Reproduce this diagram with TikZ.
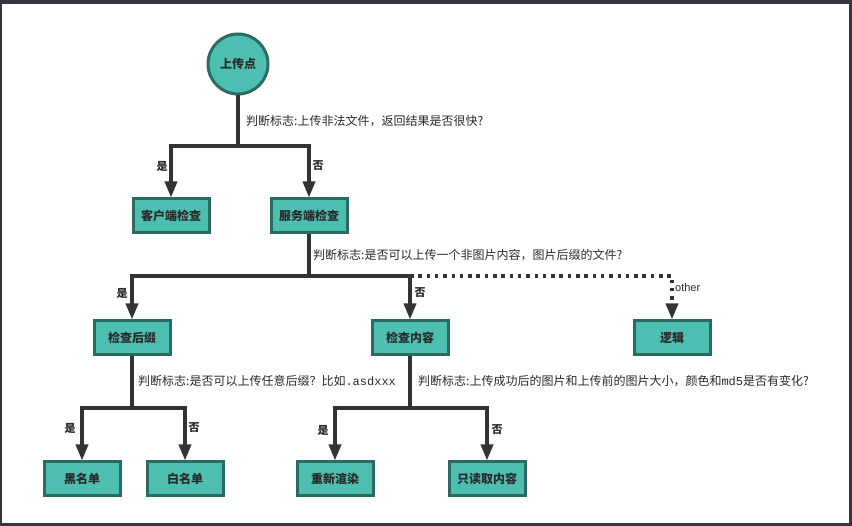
\documentclass[tikz,border=0pt]{standalone}
\usepackage{fontspec}
\setmainfont{Noto Sans CJK SC}
\newfontfamily\monof{Liberation Mono}
\newfontfamily\latinf{Liberation Sans}
\usetikzlibrary{arrows.meta}
\definecolor{framec}{HTML}{33373B}
\definecolor{tealfill}{HTML}{4DBFB1}
\definecolor{tealdraw}{HTML}{2B6B61}
\definecolor{linec}{HTML}{333333}
\definecolor{textc}{HTML}{2A2A2A}
\begin{document}
\begin{tikzpicture}[x=1pt,y=-1pt,
  box/.style={rectangle, draw=tealdraw, fill=tealfill, line width=3pt,
    minimum width=76pt, minimum height=34pt, inner sep=0pt,
    font=\fontsize{12}{14}\selectfont\bfseries, text=textc},
  startc/.style={circle, draw=tealdraw, fill=tealfill, line width=3pt,
    minimum size=60pt, inner sep=0pt, font=\fontsize{12}{14}\selectfont\bfseries, text=textc},
  conn/.style={draw=linec, line width=3.5pt},
  arr/.style={conn, -{Triangle[length=16pt,width=12pt]}},
  dotc/.style={draw=linec, line width=3.5pt, dash pattern=on 3.5pt off 4.8pt, -{Triangle[length=16pt,width=12pt]}},
  lbl/.style={anchor=west, inner sep=0pt, font=\fontsize{12}{14}\selectfont, text=textc},
  yn/.style={inner sep=0pt, font=\fontsize{11}{13}\selectfont\bfseries, text=textc}]
\fill[framec] (0,0) rectangle (852,526);
\fill[white] (2,4) rectangle (849,523);
% nodes
\node[startc] (top) at (238,64) {上传点};
\node[box] (client) at (171,216) {客户端检查};
\node[box] (server) at (309,216) {服务端检查};
\node[box] (suffix) at (132,338) {检查后缀};
\node[box] (content) at (410,338) {检查内容};
\node[box] (logic) at (672,338) {逻辑};
\node[box] (black) at (82,479) {黑名单};
\node[box] (white) at (185,479) {白名单};
\node[box] (render) at (335,479) {重新渲染};
\node[box] (readc) at (487,479) {只读取内容};
% branch points
\coordinate (b1) at (238,146);
\coordinate (b2) at (309,276);
\coordinate (b2r) at (410,276);
\coordinate (b3) at (132,408);
\coordinate (b4) at (410,408);
% connectors
\draw[conn] (top) -- (b1);
\draw[arr] (b1) -| (client);
\draw[arr] (b1) -| (server);
\draw[dotc] (b2r) -| (logic);
\draw[conn] (server) -- (b2);
\draw[arr] (b2) -| (suffix);
\draw[arr] (b2) -| (content);
\draw[conn] (suffix) -- (b3);
\draw[arr] (b3) -| (black);
\draw[arr] (b3) -| (white);
\draw[conn] (content) -- (b4);
\draw[arr] (b4) -| (render);
\draw[arr] (b4) -| (readc);
% labels
\node[lbl] (l1) at (246,121) {判断标志:上传非法文件，返回结果是否很快?};
\node[lbl] (l2) at (313,255) {判断标志:是否可以上传一个非图片内容，图片后缀的文件?};
\node[lbl] (l3) at (138,381) {判断标志:是否可以上传任意后缀？比如{\monof .asdxxx}};
\node[lbl] (l4) at (418,381) {判断标志:上传成功后的图片和上传前的图片大小，颜色和{\monof md5}是否有变化?};
\node[yn] (y1) at (162,166) {是};
\node[yn] (n1) at (318,166) {否};
\node[yn] (y2) at (122,293) {是};
\node[yn] (n2) at (420,293) {否};
\node[anchor=west, inner sep=0pt, font=\latinf\fontsize{11}{13}\selectfont, text=textc] (oth) at (675,288) {other};
\node[yn] (y3) at (70,428) {是};
\node[yn] (n3) at (194,428) {否};
\node[yn] (y4) at (323,430) {是};
\node[yn] (n4) at (497,430) {否};
\end{tikzpicture}
\end{document}
